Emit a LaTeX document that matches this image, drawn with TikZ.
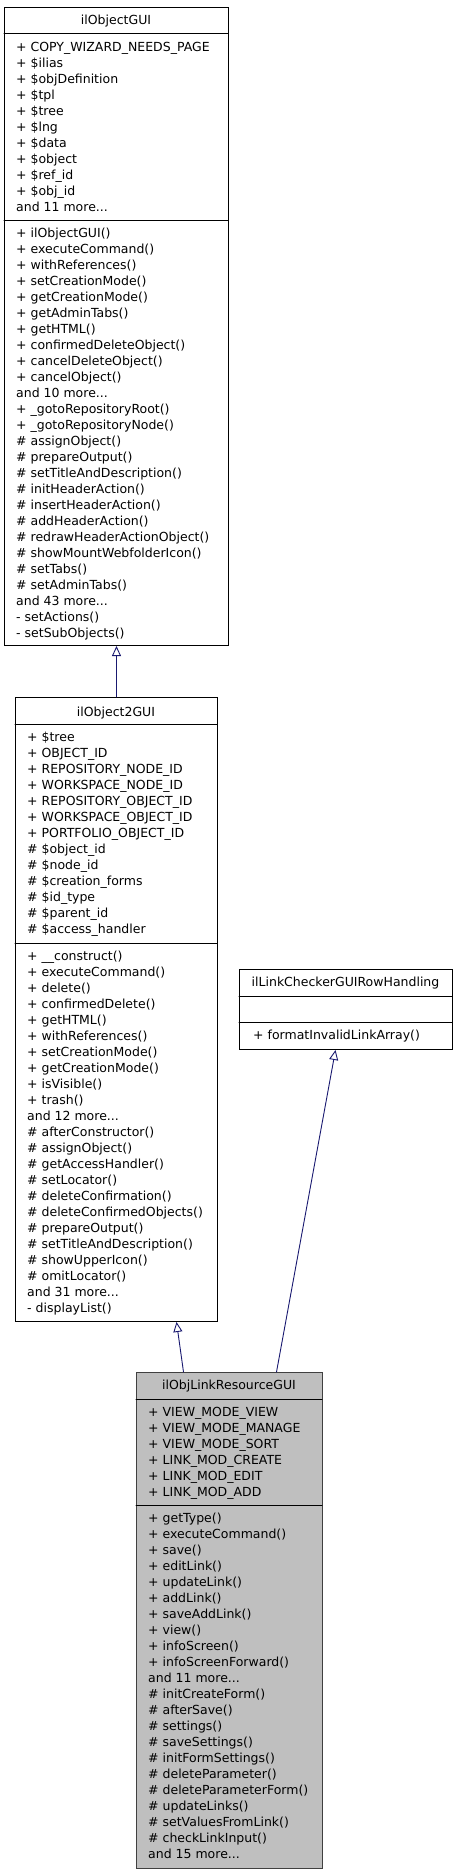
\documentclass[tikz,border=0pt]{standalone}
\usepackage{fontspec}
\setmainfont{DejaVu Sans}
\usetikzlibrary{arrows.meta}
\definecolor{edgeblue}{HTML}{191970}
\definecolor{leafgray}{HTML}{BFBFBF}
\newcommand{\andmore}[1]{and #1 more...}

\begin{document}
\begin{tikzpicture}[x=1pt,y=-1pt,line cap=round,
		cls/.style={draw,line width=1pt,anchor=north west,inner sep=0pt},
		ttl/.style={anchor=base,inner sep=0pt,font=\fontsize{12.5}{14}\selectfont},
		mem/.style={anchor=base west,inner sep=0pt,font=\fontsize{12.5}{14}\selectfont},
		inherit/.style={draw=edgeblue,line width=0.9pt,-{Triangle[open,length=10pt,width=9pt]}}]
		\useasboundingbox (0,0) rectangle (453,1875);
		%ilObjectGUI
		\node[cls,minimum width=224pt,minimum height=638pt] (objgui) at (4,7) {};
		\node[ttl] (objguit) at (116,24.5) {ilObjectGUI};
		\draw[line width=1pt] (4,33) -- (228,33) (4,220) -- (228,220);
		\foreach \T [count=\Y from 0] in {+ COPY\_WIZARD\_NEEDS\_PAGE,+ \$ilias,+ \$objDefinition,+ \$tpl,+ \$tree,+ \$lng,+ \$data,+ \$object,+ \$ref\_id,+ \$obj\_id,\andmore{11}}
		{\node[mem] (objguia\Y) at (16,51.5+16*\Y) {\T};}
		\foreach \T [count=\Y from 0] in {+ ilObjectGUI(),+ executeCommand(),+ withReferences(),+ setCreationMode(),+ getCreationMode(),+ getAdminTabs(),+ getHTML(),+ confirmedDeleteObject(),+ cancelDeleteObject(),+ cancelObject(),\andmore{10},+ \_gotoRepositoryRoot(),+ \_gotoRepositoryNode(),\# assignObject(),\# prepareOutput(),\# setTitleAndDescription(),\# initHeaderAction(),\# insertHeaderAction(),\# addHeaderAction(),\# redrawHeaderActionObject(),\# showMountWebfolderIcon(),\# setTabs(),\# setAdminTabs(),\andmore{43},- setActions(),- setSubObjects()}
		{\node[mem] (objguim\Y) at (16,237.5+16*\Y) {\T};}
		%ilObject2GUI
		\node[cls,minimum width=202pt,minimum height=624pt] (obj2gui) at (15,697) {};
		\node[ttl] (obj2guit) at (116,716.5) {ilObject2GUI};
		\draw[line width=1pt] (15,724) -- (217,724) (15,943) -- (217,943);
		\foreach \T [count=\Y from 0] in {+ \$tree,+ OBJECT\_ID,+ REPOSITORY\_NODE\_ID,+ WORKSPACE\_NODE\_ID,+ REPOSITORY\_OBJECT\_ID,+ WORKSPACE\_OBJECT\_ID,+ PORTFOLIO\_OBJECT\_ID,\# \$object\_id,\# \$node\_id,\# \$creation\_forms,\# \$id\_type,\# \$parent\_id,\# \$access\_handler}
		{\node[mem] (obj2guia\Y) at (27,741.5+16*\Y) {\T};}
		\foreach \T [count=\Y from 0] in {+ \_\_construct(),+ executeCommand(),+ delete(),+ confirmedDelete(),+ getHTML(),+ withReferences(),+ setCreationMode(),+ getCreationMode(),+ isVisible(),+ trash(),\andmore{12},\# afterConstructor(),\# assignObject(),\# getAccessHandler(),\# setLocator(),\# deleteConfirmation(),\# deleteConfirmedObjects(),\# prepareOutput(),\# setTitleAndDescription(),\# showUpperIcon(),\# omitLocator(),\andmore{31},- displayList()}
		{\node[mem] (obj2guim\Y) at (27,960.5+16*\Y) {\T};}
		%ilLinkCheckerGUIRowHandling
		\node[cls,minimum width=213pt,minimum height=80pt] (rowhandling) at (239,969) {};
		\node[ttl] (rowhandlingt) at (345.5,986.5) {ilLinkCheckerGUIRowHandling};
		\draw[line width=1pt] (239,996) -- (452,996) (239,1022) -- (452,1022);
		\node[mem] (rowhandlingm0) at (253,1039.5) {+ formatInvalidLinkArray()};
		%ilObjLinkResourceGUI
		\node[cls,draw=black!75,fill=leafgray,minimum width=186pt,minimum height=496pt] (linkres) at (136,1372) {};
		\node[ttl] (linkrest) at (229,1389.5) {ilObjLinkResourceGUI};
		\draw[line width=1pt] (136,1399) -- (322,1399) (136,1505) -- (322,1505);
		\foreach \T [count=\Y from 0] in {+ VIEW\_MODE\_VIEW,+ VIEW\_MODE\_MANAGE,+ VIEW\_MODE\_SORT,+ LINK\_MOD\_CREATE,+ LINK\_MOD\_EDIT,+ LINK\_MOD\_ADD}
		{\node[mem] (linkresa\Y) at (148,1416.5+16*\Y) {\T};}
		\foreach \T [count=\Y from 0] in {+ getType(),+ executeCommand(),+ save(),+ editLink(),+ updateLink(),+ addLink(),+ saveAddLink(),+ view(),+ infoScreen(),+ infoScreenForward(),\andmore{11},\# initCreateForm(),\# afterSave(),\# settings(),\# saveSettings(),\# initFormSettings(),\# deleteParameter(),\# deleteParameterForm(),\# updateLinks(),\# setValuesFromLink(),\# checkLinkInput(),\andmore{15}}
		{\node[mem] (linkresm\Y) at (148,1522.5+16*\Y) {\T};}
		%inheritance
		\draw[inherit] (obj2gui.north) -- (objgui.south);
		\draw[inherit] ([xshift=-46pt]linkres.north) -- ([xshift=60pt]obj2gui.south);
		\draw[inherit] ([xshift=47pt]linkres.north) -- ([xshift=-10.5pt]rowhandling.south);
		\end{tikzpicture}
\end{document}
